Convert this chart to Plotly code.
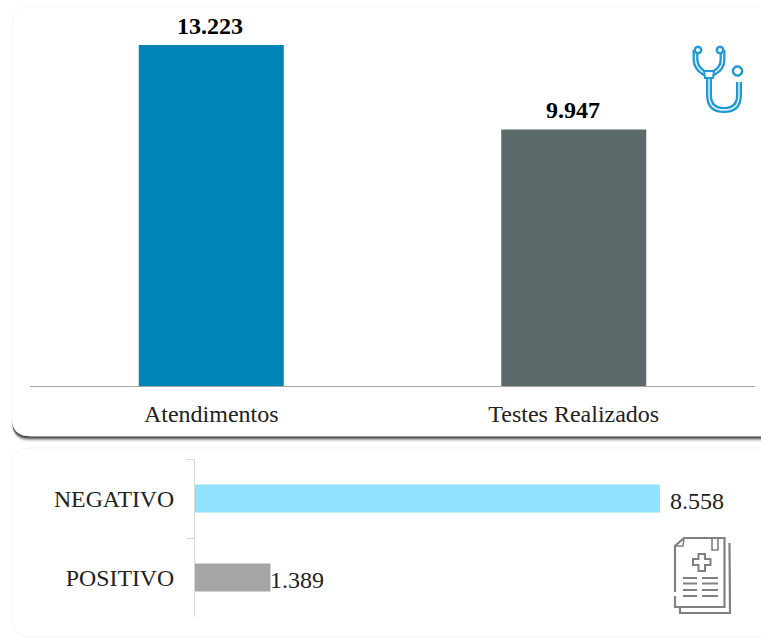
import math
import plotly.graph_objects as go

W, H = 761, 638
top_categories = ["Atendimentos", "Testes Realizados"]
top_values = [13223, 9947]
top_colors = ["#0083B5", "#5C6A6B"]
bottom_categories = ["POSITIVO", "NEGATIVO"]
bottom_values = [1389, 8558]
bottom_colors = ["#A6A6A6", "#91E1FF"]
bottom_label_shift = [0, 10]
FONT = "Liberation Serif"

def px(x): return x / W
def py(y): return 1 - y / H

def rounded(x0, y0, x1, y1, r):
    return (f"M{px(x0)},{py(y0 + r)} Q{px(x0)},{py(y0)} {px(x0 + r)},{py(y0)} "
            f"L{px(x1)},{py(y0)} L{px(x1)},{py(y1)} L{px(x0 + r)},{py(y1)} "
            f"Q{px(x0)},{py(y1)} {px(x0)},{py(y1 - r)} Z")

def path_of(pts, close=False):
    s = "M" + " L".join(f"{px(a)},{py(b)}" for a, b in pts)
    return s + (" Z" if close else "")

shapes = []
def add_path(d, line=None, width=1, fill=None):
    shapes.append(dict(type="path", xref="paper", yref="paper", path=d,
                       line=dict(color=line or "rgba(0,0,0,0)", width=width if line else 0),
                       fillcolor=fill or "rgba(0,0,0,0)", layer="below"))

def add_icon(d, line=None, width=1, fill=None):
    shapes.append(dict(type="path", xref="paper", yref="paper", path=d,
                       line=dict(color=line or "rgba(0,0,0,0)", width=width if line else 0),
                       fillcolor=fill or "rgba(0,0,0,0)", layer="above"))

# cards
for off, alpha in [(6, .05), (5, .12), (4, .22), (3, .35), (2, .5), (1, .6)]:
    add_path(rounded(12, 8, 790, 436 + off, 18), fill=f"rgba(40,40,40,{alpha})")
add_path(rounded(12, 6, 790, 436, 18), line="#f7f7f7", width=1, fill="#ffffff")
add_path(rounded(12, 448, 790, 637, 18), line="#f6f6f6", width=1, fill="#ffffff")

# stethoscope icon
BLUE = "#1F9AD6"
def P(x, y): return f"{px(x)},{py(y)}"
arm = " ".join([f"M{P(695.5, 50)}", f"L{P(695.5, 60)}", f"Q{P(696, 68)} {P(704, 73)}",
                f"L{P(714, 73)}", f"Q{P(722.5, 68)} {P(722.5, 60)}", f"L{P(722.5, 50)}"])
ushape = " ".join([f"M{P(709, 76)}", f"L{P(709, 95)}", f"Q{P(709, 110)} {P(724, 110)}",
                   f"Q{P(739, 110)} {P(739, 95)}", f"L{P(739, 82)}"])
for d in (arm, ushape):
    add_icon(d, line=BLUE, width=6)
    add_icon(d, line="#ffffff", width=1.3)
def circle(cx, cy, r, **k):
    n = 16
    pts = [(cx + r * math.cos(2 * math.pi * i / n), cy + r * math.sin(2 * math.pi * i / n)) for i in range(n)]
    add_icon(path_of(pts, True), **k)
circle(698, 50, 3.2, line=BLUE, width=2.4, fill="#ffffff")
circle(720, 50, 3.2, line=BLUE, width=2.4, fill="#ffffff")
circle(737.5, 71, 4.6, line=BLUE, width=2.4, fill="#ffffff")
add_icon(path_of([(704, 71), (714, 71), (713, 78), (705, 78)], True), line=BLUE, width=2, fill="#ffffff")

# document icon
GRAY = "#808080"
add_icon(path_of([(729.5, 543), (730, 613), (680, 613), (680, 607)]), line=GRAY, width=2.2)
add_icon(path_of([(675, 592), (675, 546), (684, 538), (724.5, 538), (724.5, 607), (675, 607), (675, 596)]), line=GRAY, width=2.2)
add_icon(path_of([(675, 546), (683, 546), (684, 538)]), line=GRAY, width=1.6)
add_icon(path_of([(712, 538), (712, 550), (718, 550), (718, 538)]), line=GRAY, width=1.6)
add_icon(path_of([(698.5, 554), (705, 554), (705, 559), (710.5, 559), (710.5, 565), (705, 565), (705, 571),
                  (698.5, 571), (698.5, 565), (693, 565), (693, 559), (698.5, 559)], True), line=GRAY, width=2)
for ly in (578, 583.5, 590, 596):
    add_icon(path_of([(683, ly), (697, ly)]), line=GRAY, width=2)
    add_icon(path_of([(702, ly), (718, ly)]), line=GRAY, width=2)

fig = go.Figure()
fig.add_trace(go.Bar(x=top_categories, y=top_values, marker=dict(color=top_colors, line_width=0), width=0.4,
                     xaxis="x", yaxis="y", showlegend=False))
fig.add_trace(go.Bar(y=bottom_categories, x=bottom_values, orientation="h",
                     marker=dict(color=bottom_colors, line_width=0), width=0.354,
                     xaxis="x2", yaxis="y2", showlegend=False))

def fmt(v):
    return f"{v:,}".replace(",", ".")

annotations = []
for c, v in zip(top_categories, top_values):
    annotations.append(dict(x=c, y=v, xref="x", yref="y", text=f"<b>{fmt(v)}</b>", showarrow=False,
                            xanchor="center", yanchor="bottom", yshift=4, xshift=-1,
                            font=dict(family=FONT, size=24, color="#000000")))
for c, v, s in zip(bottom_categories, bottom_values, bottom_label_shift):
    annotations.append(dict(x=v, y=c, xref="x2", yref="y2", text=fmt(v), showarrow=False,
                            xanchor="left", yanchor="middle", xshift=s - 2, yshift=-2,
                            font=dict(family=FONT, size=24, color="#222222")))

fig.update_layout(
    width=W, height=H, autosize=False, margin=dict(l=0, r=0, t=0, b=0),
    paper_bgcolor="#ffffff", plot_bgcolor="rgba(0,0,0,0)", separators=",.",
    shapes=shapes, annotations=annotations, font=dict(family=FONT),
    xaxis=dict(domain=[px(30), px(755)], anchor="y", showline=True, linecolor="#a6a6a6", linewidth=1,
               ticks="", ticklabelstandoff=6, tickfont=dict(family=FONT, size=24, color="#222222"), showgrid=False),
    yaxis=dict(domain=[py(386), py(20)], anchor="x", range=[0, 14192], visible=False, showgrid=False),
    xaxis2=dict(domain=[px(195), px(740)], anchor="y2", range=[0, 10030], visible=False, showgrid=False),
    yaxis2=dict(domain=[py(617), py(459)], anchor="x2", showline=True, linecolor="#d9d9d9", linewidth=1,
                ticks="outside", ticklen=8, tickcolor="#d9d9d9", tickson="boundaries",
                ticklabelstandoff=15, tickfont=dict(family=FONT, size=23.8, color="#222222"), showgrid=False),
)
fig.write_html("out.html", config=dict(displayModeBar=False),
               post_script="document.body.style.margin='0';document.body.style.overflow='hidden';")
